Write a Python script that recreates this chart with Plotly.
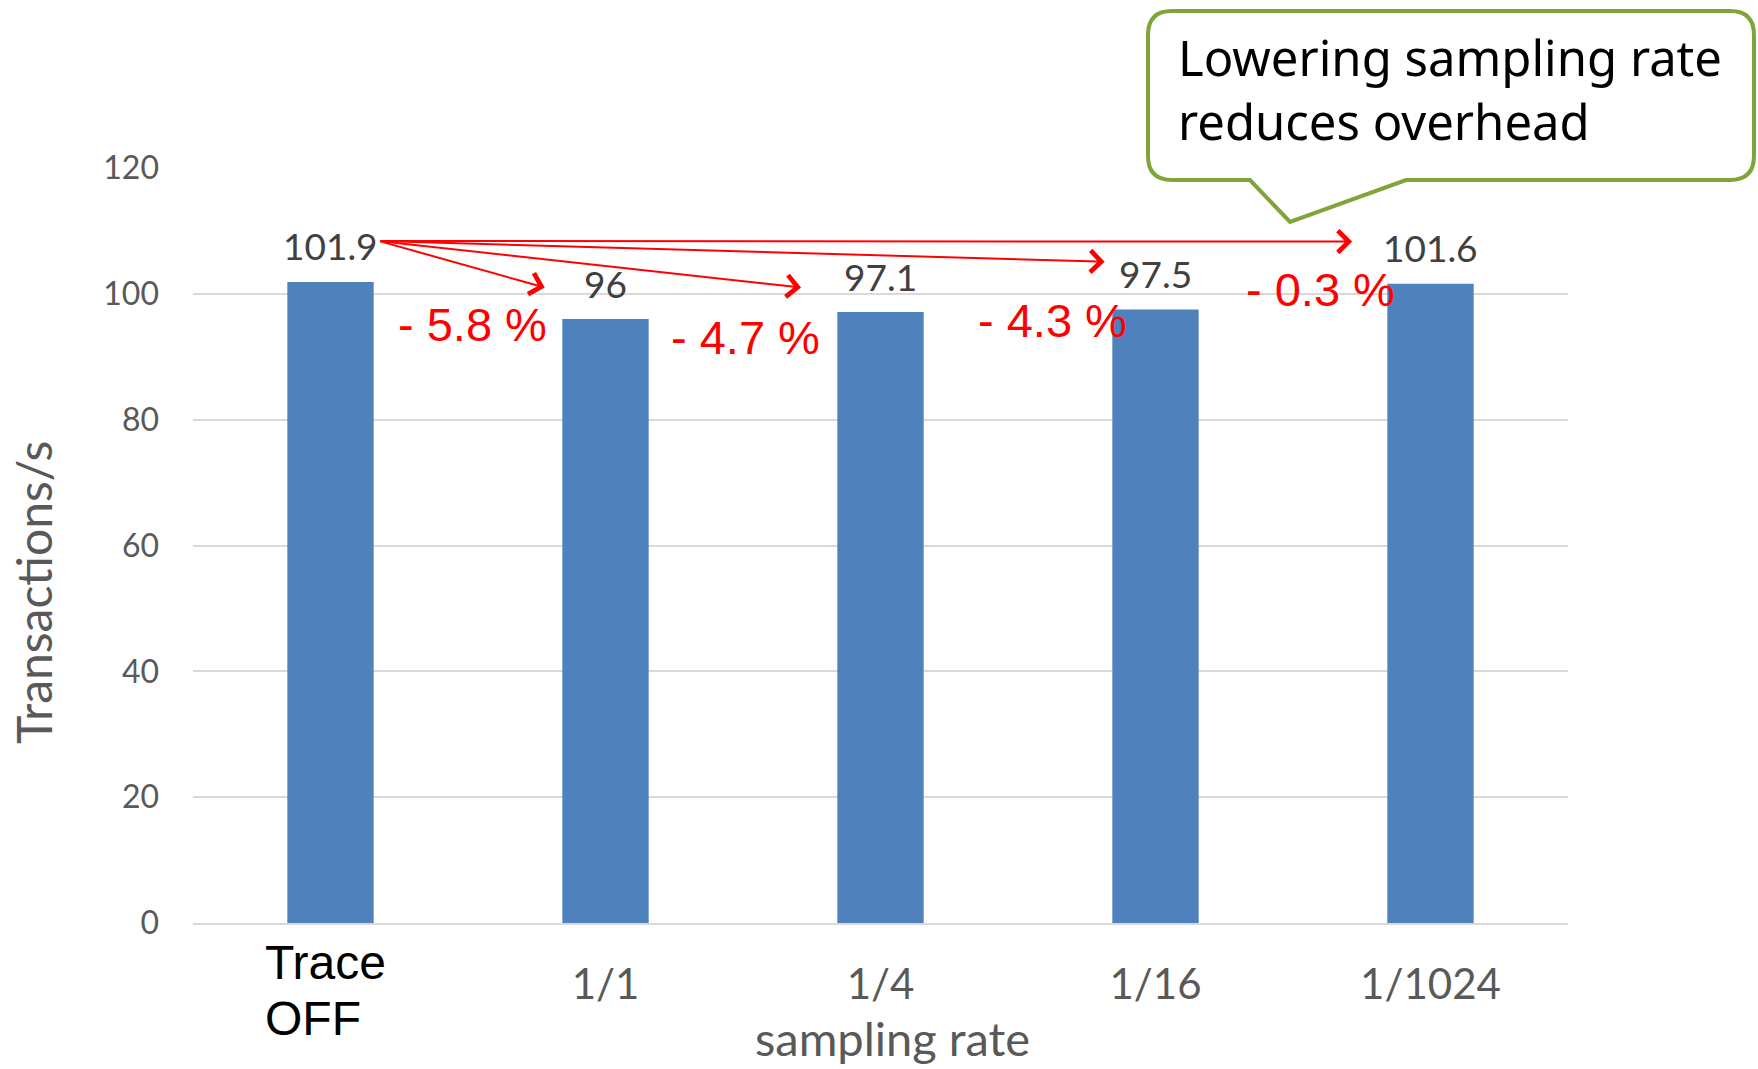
import plotly.graph_objects as go

# ---- data ----
categories = ["Trace<br>OFF", "1/1", "1/4", "1/16", "1/1024"]
values = [101.9, 96, 97.1, 97.5, 101.6]
y_title = "Transactions/s"
x_title = "sampling rate"
callout_text = "Lowering sampling rate<br>reduces overhead"
y_ticks = [0, 20, 40, 60, 80, 100, 120]

x_pos = list(range(len(categories)))
base = values[0]
drops = [(v - base) / base * 100 for v in values[1:]]
drop_labels = ["- %.1f %%" % abs(d) for d in drops]

# annotation placement (layout, not data)
drop_label_pos = [(0.516, 95.2), (1.509, 93.1), (2.627, 95.8), (3.60, 100.7)]
arrow_tail = (0.176, 108.4)
arrow_tips = [(0.779, 101.0), (1.711, 101.0), (2.815, 105.1), (3.715, 108.3)]

# figure geometry (pixels)
W, H = 1758, 1069
ML, MR, MT, MB = 193, 190, 168, 146
PW, PH = W - ML - MR, H - MT - MB


def px(x):
    return (x - ML) / PW


def py(y):
    return (H - MB - y) / PH


fig = go.Figure()
fig.add_trace(go.Bar(
    x=x_pos, y=values, width=0.314,
    marker=dict(color="#4F81BD", line=dict(width=0)),
    hoverinfo="skip",
))

annotations = []
# value labels
for xi, v in zip(x_pos, values):
    annotations.append(dict(
        x=xi, y=v, xref="x", yref="y", text=("%g" % v), showarrow=False,
        yshift=36, yanchor="middle", xanchor="center",
        font=dict(family="Lato", size=37, color="#404040"),
    ))
# arrows
for tx, ty in arrow_tips:
    annotations.append(dict(
        x=tx, y=ty, xref="x", yref="y", ax=arrow_tail[0], ay=arrow_tail[1],
        axref="x", ayref="y", text="", showarrow=True,
        arrowhead=4, arrowsize=2.1, arrowwidth=2, arrowcolor="#FF0000",
        standoff=0, startstandoff=0,
    ))
# drop labels
for (lx, ly), t in zip(drop_label_pos, drop_labels):
    annotations.append(dict(
        x=lx, y=ly, xref="x", yref="y", text=t, showarrow=False,
        xanchor="center", yanchor="middle",
        font=dict(family="Liberation Sans", size=47, color="#FF0000"),
    ))
# first category label (different font / alignment), one line at a time
for i, line in enumerate(categories[0].split("<br>")):
    annotations.append(dict(
        x=x_pos[0], y=0, xref="x", yref="y", text=line, showarrow=False,
        xanchor="left", yanchor="middle", xshift=-68, yshift=-39 - 56 * i,
        font=dict(family="Liberation Sans", size=48, color="#000000"),
    ))
# axis titles
annotations.append(dict(
    x=px(33), y=py(593), xref="paper", yref="paper", text=y_title,
    showarrow=False, textangle=-90, xanchor="center", yanchor="middle",
    font=dict(family="Lato", size=48, color="#595959"),
))
annotations.append(dict(
    x=px(892), y=py(1008), xref="paper", yref="paper", text=x_title,
    showarrow=False, xanchor="center", yanchor="top",
    font=dict(family="Lato", size=47, color="#595959"),
))
# callout text
annotations.append(dict(
    x=px(1176), y=py(22), xref="paper", yref="paper", text=callout_text,
    showarrow=False, xanchor="left", yanchor="top", align="left",
    font=dict(family="Noto Sans", size=49, color="#000000"),
))

# callout bubble
L, T, R, B, r = 1148, 11, 1754, 180, 24
pts = [
    ("M", L + r, T), ("L", R - r, T), ("Q", R, T, R, T + r), ("L", R, B - r),
    ("Q", R, B, R - r, B), ("L", 1406, B), ("L", 1290, 222), ("L", 1250, B),
    ("L", L + r, B), ("Q", L, B, L, B - r), ("L", L, T + r), ("Q", L, T, L + r, T),
]
path = ""
for p in pts:
    cmd = p[0]
    coords = p[1:]
    segs = []
    for i in range(0, len(coords), 2):
        segs.append("%f,%f" % (px(coords[i]), py(coords[i + 1])))
    path += cmd + " " + " ".join(segs) + " "
path += "Z"

fig.update_layout(
    width=W, height=H,
    margin=dict(l=ML, r=MR, t=MT, b=MB),
    paper_bgcolor="white", plot_bgcolor="white",
    showlegend=False,
    annotations=annotations,
    shapes=[dict(type="path", path=path, xref="paper", yref="paper",
                 line=dict(color="#7FA53A", width=4), fillcolor="white",
                 layer="above")],
    xaxis=dict(
        range=[-0.5, len(categories) - 0.5],
        tickmode="array", tickvals=x_pos,
        ticktext=[""] + categories[1:],
        showgrid=False, zeroline=False,
        showline=True, linecolor="#D9D9D9", linewidth=1.5,
        tickfont=dict(family="Lato", size=42, color="#595959"),
        ticklabelstandoff=24, ticks="",
    ),
    yaxis=dict(
        range=[0, 120], tickmode="array", tickvals=y_ticks,
        showgrid=True, gridcolor="#D9D9D9", gridwidth=1.5,
        zeroline=False, showline=False, ticks="",
        tickfont=dict(family="Lato", size=32, color="#595959"),
        ticklabelstandoff=33,
    ),
)

fig.write_html("out.html")
